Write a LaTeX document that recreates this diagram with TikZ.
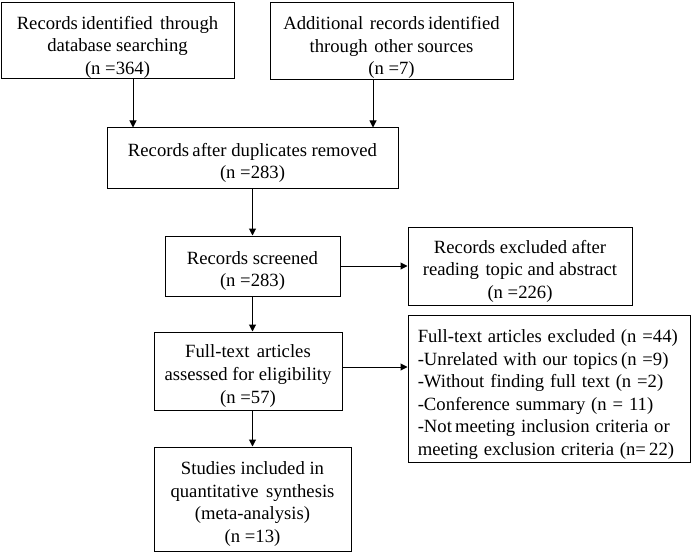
\documentclass[tikz,border=0pt]{standalone}
\usepackage{fontspec}
\setmainfont{Liberation Serif}
\usetikzlibrary{arrows.meta}
\newcommand\mywidespace{\spaceskip=4.4pt plus 1pt\relax}
\begin{document}
\begin{tikzpicture}[x=0.75pt,y=-0.75pt,
  box/.style={draw, line width=0.75pt, inner sep=0pt},
  txt/.style={inner sep=0pt, align=center, font=\fontsize{14}{16.9}\selectfont},
  arr/.style={line width=0.75pt, -{Triangle[length=5.25pt,width=5.25pt]}}]
\useasboundingbox (0,0) rectangle (691,556);
% boxes
\node[box, minimum width=174.75pt, minimum height=57pt] (B1) at (117.5,41) {};
\node[box, minimum width=182.25pt, minimum height=57.75pt] (B2) at (391.5,41.5) {};
\node[box, minimum width=218.25pt, minimum height=45pt] (B3) at (252.5,158) {};
\node[box, minimum width=131.25pt, minimum height=45pt] (B4) at (252.5,266) {};
\node[box, minimum width=168pt, minimum height=58.5pt] (B5) at (520,266) {};
\node[box, minimum width=141pt, minimum height=58.5pt] (B6) at (248,371) {};
\node[box, minimum width=211.5pt, minimum height=110.25pt] (B7) at (549,388.5) {};
\node[box, minimum width=147.75pt, minimum height=78pt] (B8) at (252.5,499) {};
% texts
\node[txt] (T1) at ([yshift=-4.5pt]B1.center)
  {Records\hspace{-1pt} identified\hspace{2pt} through\\database searching\\(n =364)};
\node[txt] (T2) at ([yshift=-4.5pt]B2.center)
  {Additional\hspace{1.5pt} records\hspace{-1pt} identified\\through\hspace{1.5pt} other sources\\(n =7)};
\node[txt] (T3) at ([yshift=-3.75pt]B3.center)
  {Records\hspace{-1pt} after duplicates removed\\(n =283)};
\node[txt] (T4) at ([yshift=-3.75pt]B4.center)
  {Records screened\\(n =283)};
\node[txt] (T5) at ([yshift=-3.75pt]B5.center)
  {Records excluded after\\reading\hspace{1.5pt} topic and abstract\\(n =226)};
\node[txt] (T6) at ([yshift=-3.75pt]B6.center)
  {Full-text\hspace{2pt} articles\\assessed for eligibility\\(n =57)};
\node[txt, align=left, anchor=west, font=\fontsize{14}{16.9}\selectfont\mywidespace]
  (T7) at ([xshift=7.5pt,yshift=-4.5pt]B7.west)
  {Full-text articles excluded (n =44)\\
   -Unrelated with our topics\hspace{-2pt} (n =9)\\
   -Without finding full text (n =2)\\
   -Conference summary (n = 11)\\
   -Not\hspace{-2pt} meeting inclusion criteria or\\
   meeting exclusion criteria (n=\hspace{-2pt} 22)};
\node[txt] (T8) at ([yshift=-3.75pt]B8.center)
  {Studies included in\\quantitative\hspace{2pt} synthesis\\(meta-analysis)\\(n =13)};
% connectors
\coordinate (a1) at (133,79);
\coordinate (a2) at (373,80);
\draw[arr] (a1) -- (a1 |- B3.north);
\draw[arr] (a2) -- (a2 |- B3.north);
\draw[arr] (B3.south) -- (B4.north);
\draw[arr] (B4.east) -- (B4.east -| B5.west);
\draw[arr] (B4.south) -- (B4.south |- B6.north);
\draw[arr] ([yshift=3pt]B6.east) -- ([yshift=3pt]B6.east -| B7.west);
\draw[arr] (B8.north |- B6.south) -- (B8.north);
\end{tikzpicture}
\end{document}
